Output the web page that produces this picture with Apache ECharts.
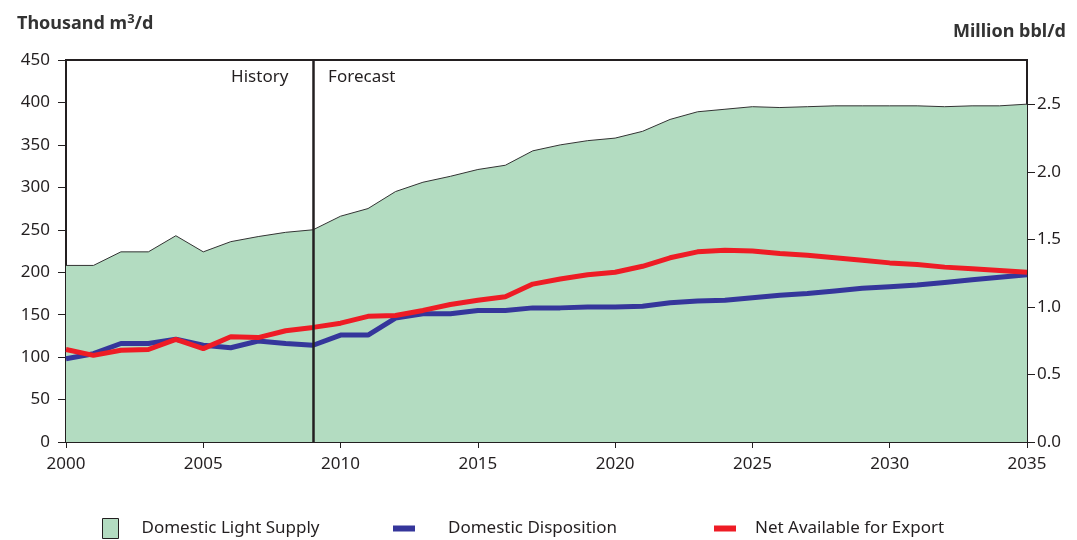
<!DOCTYPE html>
<html>
<head>
<meta charset="utf-8">
<script src="https://cdn.jsdelivr.net/npm/echarts@6/dist/echarts.min.js"></script>
<style>
  html, body { margin: 0; padding: 0; background: #fff; }
  #container { width: 1077px; height: 540px; }
</style>
</head>
<body>
<div id="container"></div>
<script>
// data (thousand m3/d)
var years = [];
for (var y = 2000; y <= 2035; y++) years.push(y);

var supply = [208, 208, 224, 224, 243, 224, 236, 242, 247, 250,
  266, 275, 295, 306, 313, 321, 326, 343, 350, 355,
  358, 366, 380, 389, 392, 395, 394, 395, 396, 396,
  396, 396, 395, 396, 396, 398];

var disposition = [98, 104, 116, 116, 121, 114, 111, 119, 116, 114,
  126, 126, 146, 151, 151, 155, 155, 158, 158, 159,
  159, 160, 164, 166, 167, 170, 173, 175, 178, 181,
  183, 185, 188, 191, 194, 197];

var netExport = [109, 102, 108, 109, 121, 110, 124, 123, 131, 135,
  140, 148, 149, 155, 162, 167, 171, 186, 192, 197,
  200, 207, 217, 224, 226, 225, 222, 220, 217, 214,
  211, 209, 206, 204, 202, 200];

var splitYear = 2009;

function pairs(vals) {
  return vals.map(function (v, i) { return [years[i], v]; });
}

var dom = document.getElementById('container');
var myChart = echarts.init(dom, null, { renderer: 'canvas' });

var font = 'Noto Sans';
var ink = '#231f20';

var option = {
  animation: false,
  textStyle: { fontFamily: font },
  grid: {
    left: 66, right: 50, top: 60, bottom: 98,
    show: true, borderColor: ink, borderWidth: 2, backgroundColor: 'transparent'
  },
  title: [
    {
      text: 'Thousand m{sup|3}/d',
      left: 12, top: 8,
      textStyle: {
        fontFamily: font, fontSize: 18, fontWeight: 'bold', color: '#333',
        rich: { sup: { fontSize: 13, fontWeight: 'bold', color: '#333', verticalAlign: 'top', padding: [0, 0, 9, 0] } }
      }
    },
    {
      text: 'Million bbl/d',
      right: 6, top: 18,
      textStyle: { fontFamily: font, fontSize: 18, fontWeight: 'bold', color: '#333' }
    }
  ],
  legend: [
    {
      data: [{ name: 'Domestic Light Supply', icon: 'rect',
        itemStyle: { color: '#b3dcc1', borderColor: ink, borderWidth: 1 } }],
      left: 97, top: 513, itemWidth: 16, itemHeight: 20, itemGap: 10,
      textStyle: { fontFamily: font, fontSize: 17, color: ink, padding: [0, 0, 0, 18] },
      selectedMode: false
    },
    {
      data: [{ name: 'Domestic Disposition', icon: 'rect' }],
      left: 388, top: 515, itemWidth: 22, itemHeight: 6,
      textStyle: { fontFamily: font, fontSize: 17, color: ink, padding: [0, 0, 0, 28] },
      selectedMode: false
    },
    {
      data: [{ name: 'Net Available for Export', icon: 'rect' }],
      left: 709, top: 515, itemWidth: 22, itemHeight: 6,
      textStyle: { fontFamily: font, fontSize: 17, color: ink, padding: [0, 0, 0, 14] },
      selectedMode: false
    }
  ],
  xAxis: {
    type: 'value',
    min: 2000, max: 2035, interval: 5,
    axisLine: { show: true, lineStyle: { color: ink, width: 2 } },
    axisTick: { show: true, length: 6, lineStyle: { color: ink, width: 1 } },
    axisLabel: { fontSize: 17, color: ink, margin: 14, formatter: function (v) { return String(v); } },
    splitLine: { show: false }
  },
  yAxis: [
    {
      type: 'value',
      min: 0, max: 450, interval: 50,
      axisLine: { show: true, lineStyle: { color: ink, width: 2 } },
      axisTick: { show: true, length: 8, lineStyle: { color: ink, width: 1 } },
      axisLabel: { fontSize: 17, color: ink, margin: 16 },
      splitLine: { show: false }
    },
    {
      type: 'value',
      position: 'right',
      min: 0, max: 450 * 6.2898 / 1000, interval: 0.5,
      axisLine: { show: true, lineStyle: { color: ink, width: 2 } },
      axisTick: { show: true, length: 8, lineStyle: { color: ink, width: 1 } },
      axisLabel: {
        fontSize: 17, color: ink, margin: 10, showMaxLabel: false,
        formatter: function (v) { return v.toFixed(1); }
      },
      splitLine: { show: false }
    }
  ],
  series: [
    {
      name: 'Domestic Light Supply',
      type: 'line',
      data: pairs(supply),
      showSymbol: false,
      symbol: 'none',
      itemStyle: { color: '#b3dcc1' },
      lineStyle: { color: '#333', width: 1 },
      areaStyle: { color: '#b3dcc1', opacity: 1 },
      z: 1,
      markLine: {
        silent: true,
        symbol: 'none',
        lineStyle: { color: ink, width: 2.5, type: 'solid' },
        label: { show: false },
        data: [{ xAxis: splitYear }],
        z: 5
      }
    },
    {
      name: 'Domestic Disposition',
      type: 'line',
      data: pairs(disposition),
      symbol: 'none',
      itemStyle: { color: '#35369b' },
      lineStyle: { color: '#35369b', width: 5 },
      z: 3
    },
    {
      name: 'Net Available for Export',
      type: 'line',
      data: pairs(netExport),
      symbol: 'none',
      itemStyle: { color: '#ee1c25' },
      lineStyle: { color: '#ee1c25', width: 5 },
      z: 4
    }
  ]
};

myChart.setOption(option);

// History / Forecast labels beside the split line
var px = myChart.convertToPixel({ xAxisIndex: 0 }, splitYear);
myChart.setOption({
  graphic: [
    {
      type: 'text', left: px - 82, top: 69,
      style: { text: 'History', fontFamily: font, fontSize: 17, fill: ink, align: 'left' }
    },
    {
      type: 'text', left: px + 15, top: 69,
      style: { text: 'Forecast', fontFamily: font, fontSize: 17, fill: ink }
    }
  ]
});

window.addEventListener('resize', myChart.resize);
</script>
</body>
</html>
